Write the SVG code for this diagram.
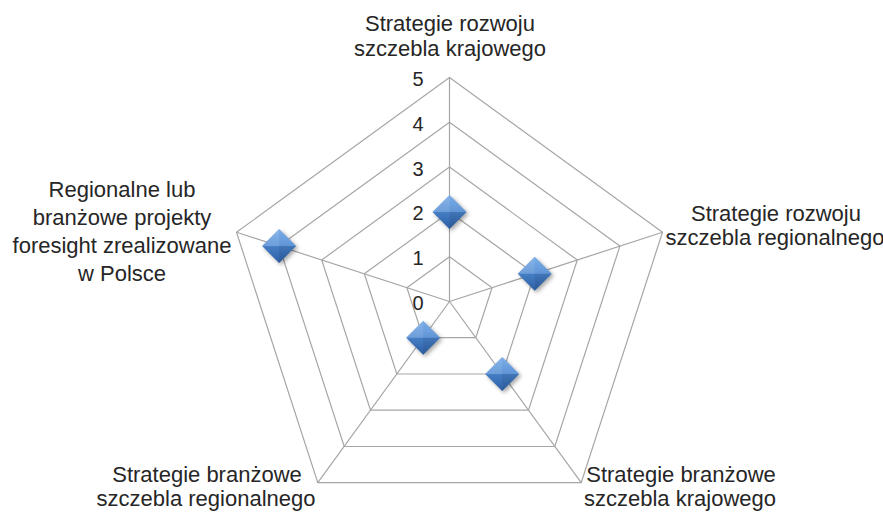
<svg xmlns="http://www.w3.org/2000/svg" xmlns:xlink="http://www.w3.org/1999/xlink" width="883" height="512" viewBox="0 0 883 512">
<style>
.grid{fill:none;stroke:#a6a6a6;stroke-width:1.2}
.lbl{font-family:"Liberation Sans",Arial,sans-serif;font-size:22px;fill:#262626;text-anchor:middle}
.num{font-family:"Liberation Sans",Arial,sans-serif;font-size:20px;fill:#262626;text-anchor:middle}
</style>
<defs>
<linearGradient id="mg" x1="0" y1="0" x2="0" y2="1">
<stop offset="0" stop-color="#6aa3e6"/>
<stop offset="0.5" stop-color="#4a86d0"/>
<stop offset="1" stop-color="#2f64ae"/>
</linearGradient>
<filter id="sh" x="-50%" y="-50%" width="200%" height="200%">
<feGaussianBlur stdDeviation="2"/>
</filter>
<g id="mk">
<path d="M2,-15 L19,2 L2,19 L-15,2 Z" fill="#000" opacity="0.35" filter="url(#sh)"/>
<path d="M0,-17 L17,0 L0,17 L-17,0 Z" fill="url(#mg)"/>
<path d="M0,-17 L17,0 L0,0 Z" fill="#ffffff" opacity="0.12"/>
<path d="M0,-17 L-17,0 L0,0 Z" fill="#ffffff" opacity="0.2"/>
<path d="M0,17 L17,0 L0,0 Z" fill="#000000" opacity="0.12"/>
<path d="M0,17 L-17,0 L0,0 Z" fill="#000000" opacity="0.05"/>
</g>
</defs>
<rect width="883" height="512" fill="#ffffff"/>
<g id="grid">
<polygon class="grid" points="449.5,256.7 492.1,287.7 475.8,337.7 423.2,337.7 406.9,287.7"/>
<polygon class="grid" points="449.5,211.9 534.7,273.8 502.2,374 396.8,374 364.3,273.8"/>
<polygon class="grid" points="449.5,167.1 577.3,260 528.5,410.2 370.5,410.2 321.7,260"/>
<polygon class="grid" points="449.5,122.3 619.9,246.1 554.8,446.5 344.2,446.5 279.1,246.1"/>
<polygon class="grid" points="449.5,77.5 662.5,232.3 581.2,482.7 317.8,482.7 236.5,232.3"/>
</g>
<g id="connectors">
<line class="grid" x1="449.5" y1="301.5" x2="449.5" y2="77.5"/>
<line class="grid" x1="449.5" y1="301.5" x2="662.5" y2="232.3"/>
<line class="grid" x1="449.5" y1="301.5" x2="581.2" y2="482.7"/>
<line class="grid" x1="449.5" y1="301.5" x2="317.8" y2="482.7"/>
<line class="grid" x1="449.5" y1="301.5" x2="236.5" y2="232.3"/>
</g>
<g id="scale">
<text class="num" x="418" y="310">0</text>
<text class="num" x="418" y="265">1</text>
<text class="num" x="418" y="220">2</text>
<text class="num" x="418" y="176">3</text>
<text class="num" x="418" y="131">4</text>
<text class="num" x="418" y="86">5</text>
</g>
<g id="label-top">
<text class="lbl" x="450" y="31">Strategie rozwoju</text>
<text class="lbl" x="450" y="56">szczebla krajowego</text>
</g>
<g id="label-right">
<text class="lbl" x="776" y="221">Strategie rozwoju</text>
<text class="lbl" x="775" y="245">szczebla regionalnego</text>
</g>
<g id="label-bottom-right">
<text class="lbl" x="681" y="482">Strategie branżowe</text>
<text class="lbl" x="680" y="506">szczebla krajowego</text>
</g>
<g id="label-bottom-left">
<text class="lbl" x="207" y="482">Strategie branżowe</text>
<text class="lbl" x="206" y="506">szczebla regionalnego</text>
</g>
<g id="label-left">
<text class="lbl" x="122" y="197">Regionalne lub</text>
<text class="lbl" x="122" y="225">branżowe projekty</text>
<text class="lbl" x="122" y="253">foresight zrealizowane</text>
<text class="lbl" x="122" y="281">w Polsce</text>
</g>
<g id="markers">
<use xlink:href="#mk" x="449.5" y="211.9"/>
<use xlink:href="#mk" x="534.7" y="273.8"/>
<use xlink:href="#mk" x="502.2" y="374"/>
<use xlink:href="#mk" x="423.2" y="337.7"/>
<use xlink:href="#mk" x="279.1" y="246.1"/>
</g>
</svg>
